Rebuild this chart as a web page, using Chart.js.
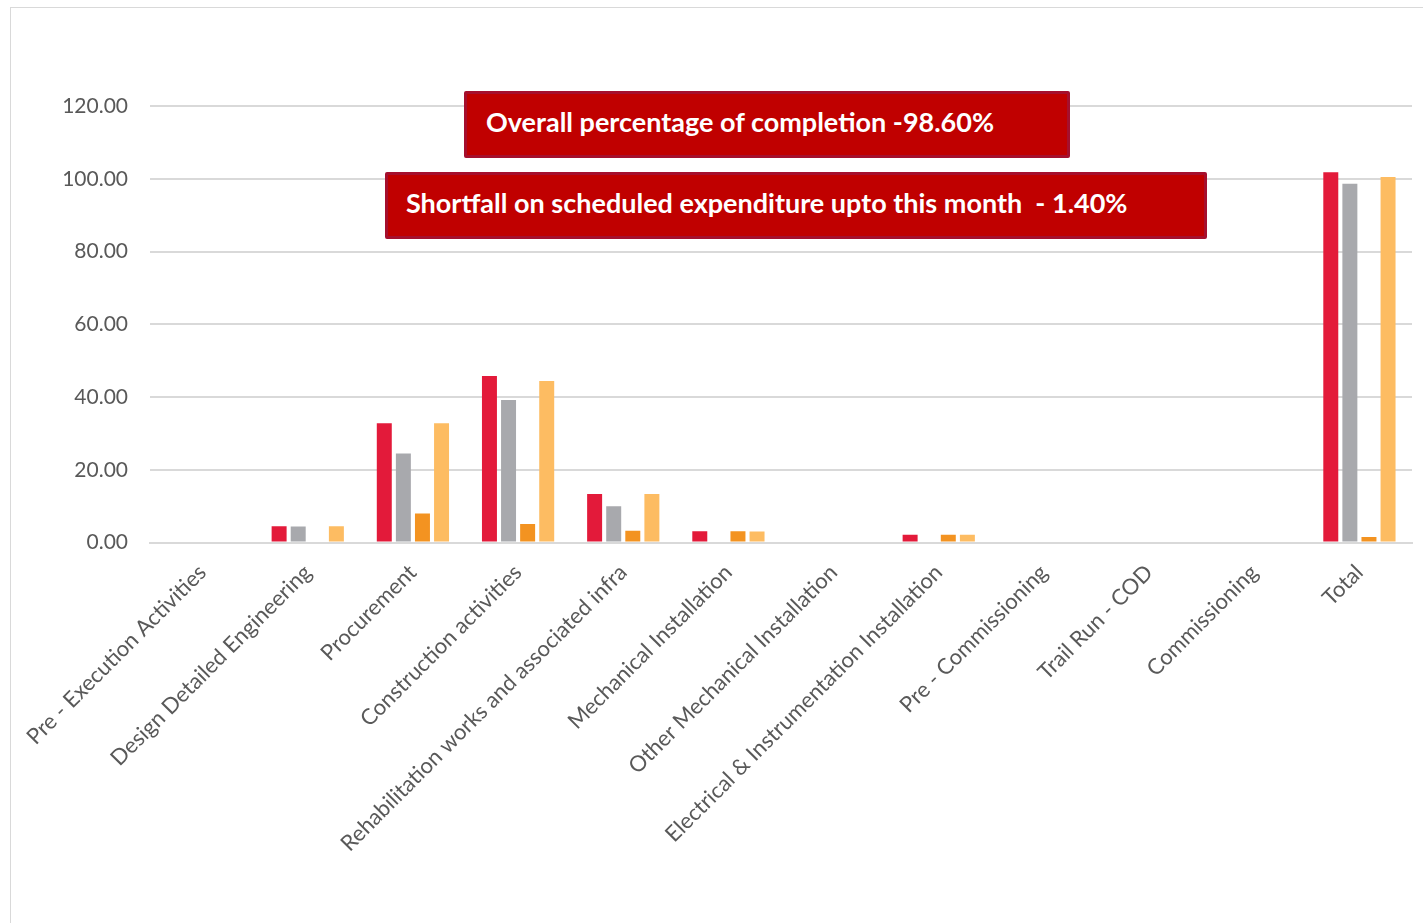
<!DOCTYPE html>
<html>
<head>
<meta charset="utf-8">
<script src="https://cdn.jsdelivr.net/npm/chart.js@4/dist/chart.umd.min.js"></script>
<style>
  html, body { margin: 0; padding: 0; background: #ffffff; overflow: hidden; }
  #wrap { position: relative; width: 1423px; height: 923px; }
  #frame { position: absolute; left: 10px; top: 7px; width: 1500px; height: 1000px; border: 1px solid #d9d9d9; box-sizing: border-box; }
  canvas { position: absolute; left: 0; top: 0; }
  .note { position: absolute; background: #C00000; border: 3px solid #A50F2D; box-sizing: border-box; color: #ffffff;
          font-family: Lato, "Open Sans", sans-serif; font-weight: bold; font-size: 27px; line-height: 1; display: flex; align-items: center; border-radius: 2px; padding-bottom: 7px; }
</style>
</head>
<body>
<div id="wrap">
  <div id="frame"></div>
  <canvas id="c" width="1423" height="923"></canvas>
  <div class="note" style="left:464px; top:91px; width:606px; height:67px; padding-left:19px;">Overall percentage of completion -98.60%</div>
  <div class="note" style="left:385px; top:172px; width:822px; height:67px; padding-left:18px;">Shortfall on scheduled expenditure upto this month&nbsp; - 1.40%</div>
</div>
<script>
const categories = [
  "Pre - Execution Activities",
  "Design Detailed Engineering",
  "Procurement",
  "Construction activities",
  "Rehabilitation works and associated infra",
  "Mechanical Installation",
  "Other Mechanical Installation",
  "Electrical & Instrumentation Installation",
  "Pre - Commissioning",
  "Trail Run - COD",
  "Commissioning",
  "Total"
];
const seriesRed       = [0, 4.5, 32.8, 45.8, 13.3, 3.1, 0, 2.1, 0, 0, 0, 101.8];
const seriesGray      = [0, 4.4, 24.5, 39.2, 10.0, 0,   0, 0,   0, 0, 0, 98.6];
const seriesOrange    = [0, 0,   8.0,  5.1,  3.2,  3.1, 0, 2.1, 0, 0, 0, 1.5];
const seriesLightOrg  = [0, 4.5, 32.8, 44.4, 13.3, 3.0, 0, 2.1, 0, 0, 0, 100.5];
const yTicks = [0, 20, 40, 60, 80, 100, 120];

const FONT = "Lato, 'Open Sans', sans-serif";
function ds(label, data, color) {
  return { label, data, backgroundColor: color, borderWidth: 0,
           barPercentage: 0.785, categoryPercentage: 0.726 };
}

new Chart(document.getElementById('c'), {
  type: 'bar',
  data: {
    labels: categories,
    datasets: [
      ds('Series 1', seriesRed, '#E31A3A'),
      ds('Series 2', seriesGray, '#A8A9AD'),
      ds('Series 3', seriesOrange, '#F39321'),
      ds('Series 4', seriesLightOrg, '#FDBC62')
    ]
  },
  options: {
    responsive: false,
    animation: false,
    layout: { padding: { left: 0, right: 11, top: 106, bottom: 0 } },
    plugins: { legend: { display: false }, tooltip: { enabled: false } },
    scales: {
      x: {
        grid: { display: false, drawTicks: false },
        border: { display: true, color: '#d9d9d9', width: 2 },
        ticks: {
          autoSkip: false, maxRotation: 45, minRotation: 45, padding: 17,
          color: '#595959', font: { family: FONT, size: 22 }
        },
        afterFit: (s) => { s.height = 380.5; }
      },
      y: {
        min: 0, max: 120,
        afterBuildTicks: (s) => { s.ticks = yTicks.map(v => ({ value: v })); },
        grid: { color: '#d9d9d9', lineWidth: 2, drawTicks: false },
        border: { display: false },
        ticks: {
          padding: 22, color: '#595959', font: { family: FONT, size: 21 },
          callback: (v) => Number(v).toFixed(2)
        },
        afterFit: (s) => { s.width = 150; }
      }
    }
  }
});
</script>
</body>
</html>
